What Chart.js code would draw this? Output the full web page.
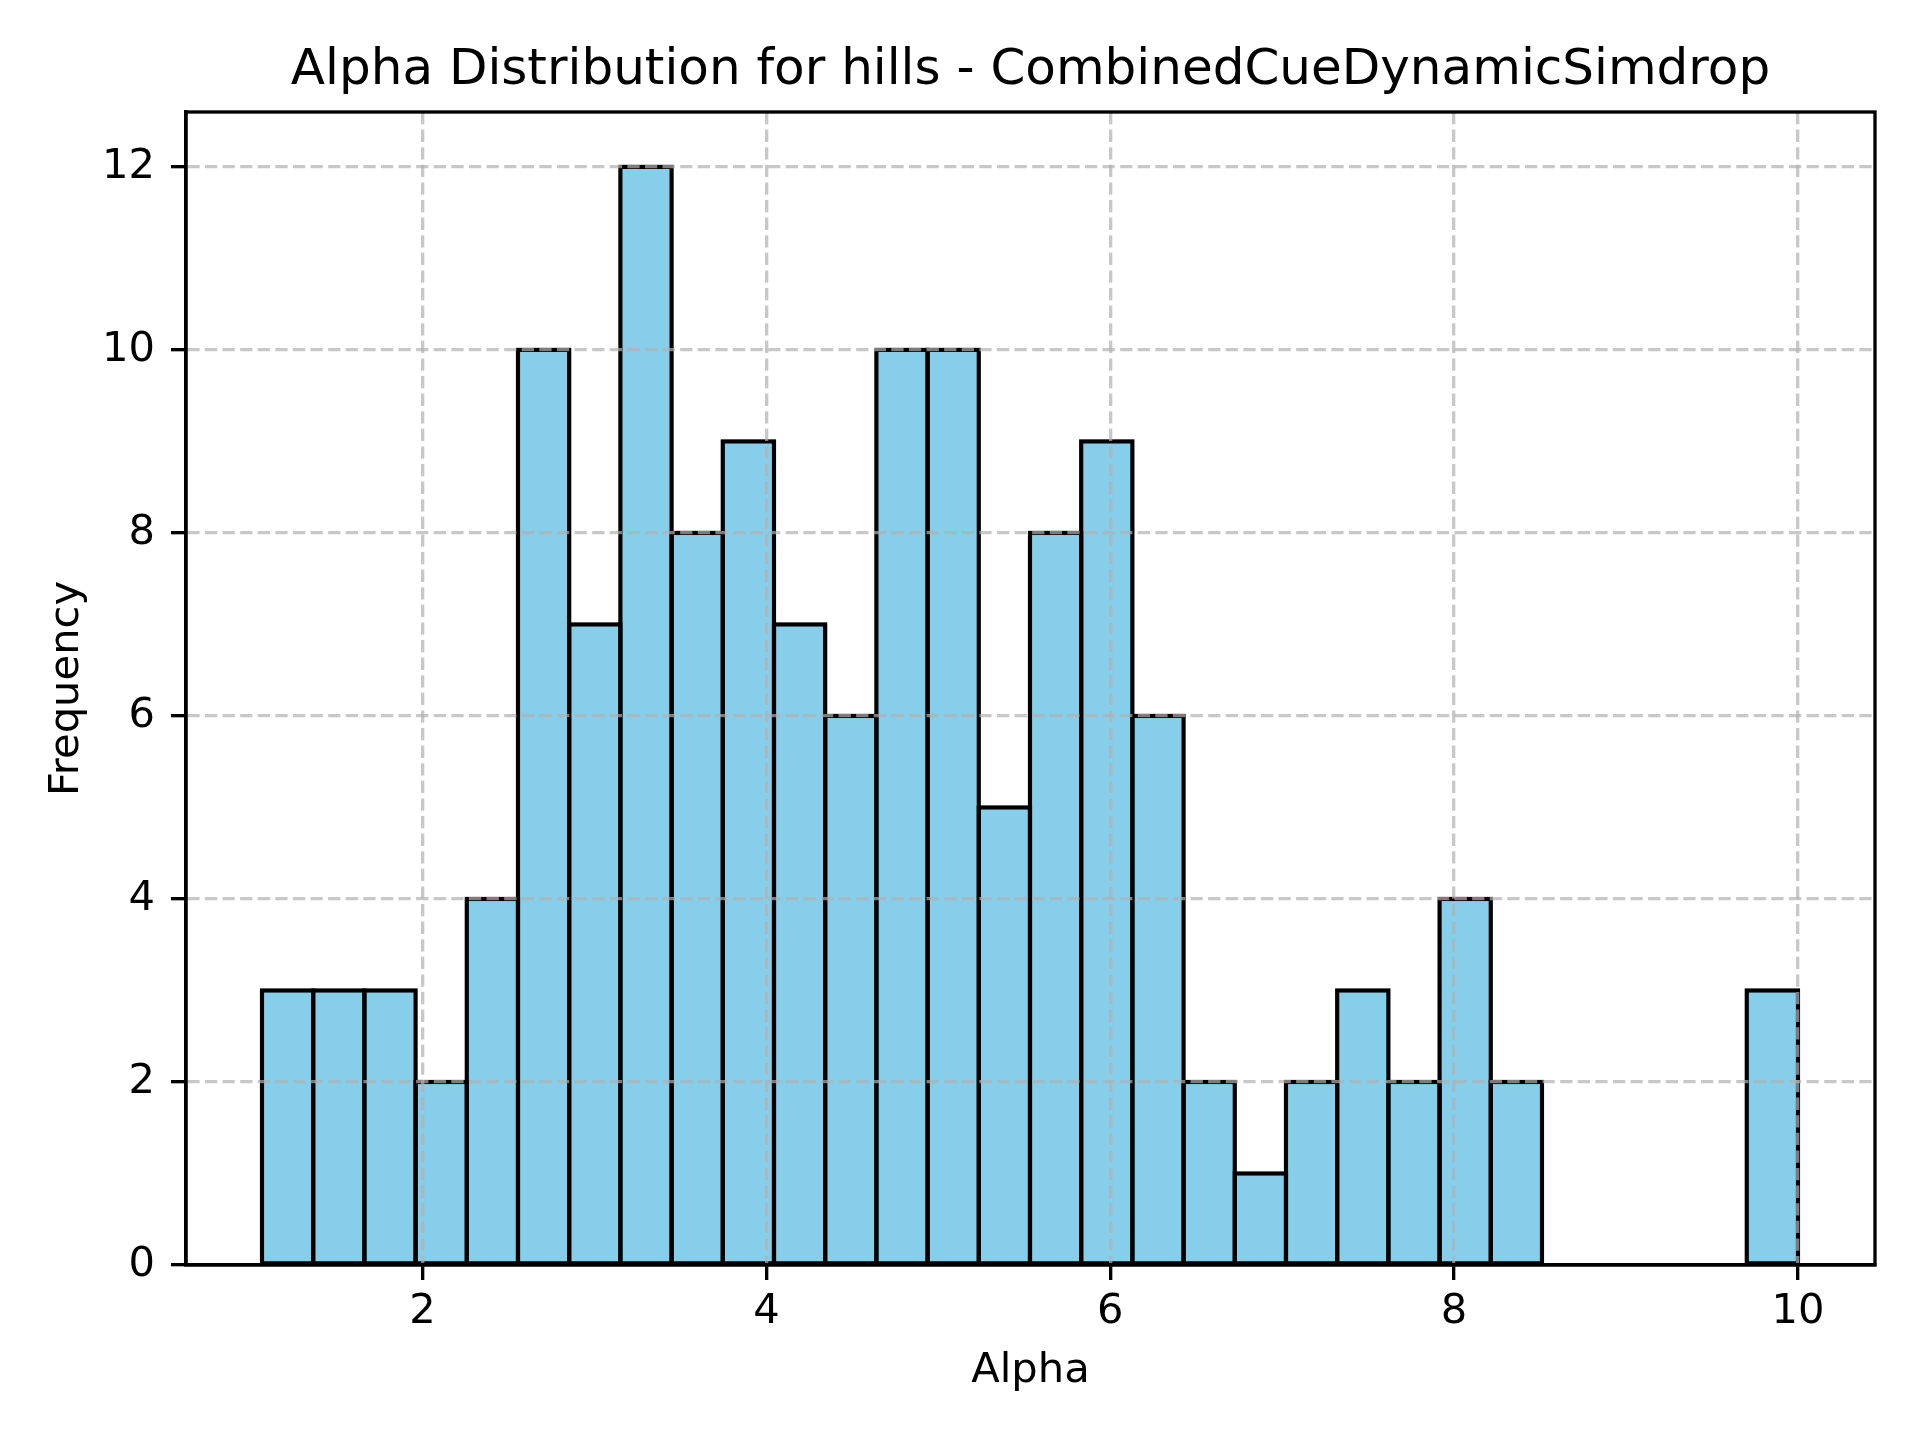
<!DOCTYPE html>
<html>
<head>
<meta charset="utf-8">
<title>Alpha Distribution for hills - CombinedCueDynamicSimdrop</title>
<script src="https://cdn.jsdelivr.net/npm/chart.js@4.4.1/dist/chart.umd.min.js"></script>
<style>
  html, body { margin: 0; padding: 0; background: #fff; }
  #wrap { width: 1920px; height: 1440px; }
</style>
</head>
<body>
<div id="wrap"><canvas id="graficoAlpha" width="1920" height="1440"></canvas></div>
<script>
const binEdges = [
    1.0660, 1.3638, 1.6616, 1.9594, 2.2572, 2.5550, 2.8528, 3.1506, 3.4484, 3.7462,
    4.0440, 4.3418, 4.6396, 4.9374, 5.2352, 5.5330, 5.8308, 6.1286, 6.4264, 6.7242,
    7.0220, 7.3198, 7.6176, 7.9154, 8.2132, 8.5110, 8.8088, 9.1066, 9.4044, 9.7022,
    10.0000
];
const frequencies = [
    3, 3, 3, 2, 4, 10, 7, 12, 8, 9,
    7, 6, 10, 10, 5, 8, 9, 6, 2, 1,
    2, 3, 2, 4, 2, 0, 0, 0, 0, 3
];
const xTicks = [2, 4, 6, 8, 10];
const yTicks = [0, 2, 4, 6, 8, 10, 12];
const xRange = [0.624, 10.448];
const yRange = [0, 12.6];

document.addEventListener("DOMContentLoaded", () => {
    const ctx = document.getElementById("graficoAlpha").getContext("2d");

    Chart.defaults.font.family = "'DejaVu Sans', sans-serif";
    Chart.defaults.color = '#000';

    const corGrade = 'rgba(176, 176, 176, 0.7)';
    const pontos = frequencies.map((f, i) => ({
        x: (binEdges[i] + binEdges[i + 1]) / 2,
        y: f
    }));

    // contorno preto das barras, centrado na borda como no matplotlib
    const bordas = {
        id: 'bordas',
        afterDatasetsDraw(chart) {
            const c = chart.ctx;
            const meta = chart.getDatasetMeta(0);
            c.save();
            c.strokeStyle = '#000';
            c.lineWidth = 4.17;
            meta.data.forEach((bar, i) => {
                if (!frequencies[i]) return;
                const p = bar.getProps(['x', 'y', 'base', 'width'], true);
                c.strokeRect(p.x - p.width / 2, p.y, p.width, p.base - p.y);
            });
            c.restore();
        }
    };

    // moldura completa dos eixos
    const moldura = {
        id: 'moldura',
        afterDraw(chart) {
            const a = chart.chartArea;
            const c = chart.ctx;
            c.save();
            c.strokeStyle = '#000';
            c.lineWidth = 3.33;
            c.strokeRect(a.left, a.top, a.right - a.left, a.bottom - a.top);
            c.restore();
        }
    };

    new Chart(ctx, {
        type: 'bar',
        data: {
            datasets: [{
                label: 'Frequency',
                data: pontos,
                backgroundColor: '#87CEEB',
                borderWidth: 0,
                inflateAmount: 0,
                barPercentage: 1,
                categoryPercentage: 1
            }]
        },
        options: {
            responsive: false,
            devicePixelRatio: 1,
            animation: false,
            layout: { padding: { left: 0, right: 45, top: 0, bottom: 0 } },
            plugins: {
                legend: { display: false },
                tooltip: { enabled: false },
                title: {
                    display: true,
                    text: 'Alpha Distribution for hills - CombinedCueDynamicSimdrop',
                    fullSize: false,
                    color: '#000',
                    font: { size: 50, weight: 'normal' },
                    padding: { top: 41, bottom: 11 }
                }
            },
            scales: {
                x: {
                    type: 'linear',
                    min: xRange[0],
                    max: xRange[1],
                    offset: false,
                    afterFit: s => { s.height = 175; },
                    afterBuildTicks: s => { s.ticks = xTicks.map(v => ({ value: v })); },
                    grid: {
                        z: 1,
                        offset: false,
                        color: corGrade,
                        lineWidth: 3.33,
                        tickLength: 15,
                        tickColor: '#000',
                        tickWidth: 3.33
                    },
                    border: { z: 1, display: true, color: '#000', width: 3.33, dash: [12.3, 5.3] },
                    ticks: { font: { size: 41.67 }, padding: 7, maxRotation: 0 },
                    title: {
                        display: true,
                        text: 'Alpha',
                        font: { size: 41.67 },
                        padding: { top: 0, bottom: 44 }
                    }
                },
                y: {
                    min: yRange[0],
                    max: yRange[1],
                    afterFit: s => { s.width = 186; },
                    afterBuildTicks: s => { s.ticks = yTicks.map(v => ({ value: v })); },
                    grid: {
                        z: 1,
                        color: c => (c.tick && c.tick.value === 0) ? 'rgba(0,0,0,0)' : corGrade,
                        lineWidth: 3.33,
                        tickLength: 15,
                        tickColor: '#000',
                        tickWidth: 3.33
                    },
                    border: { z: 1, display: true, color: '#000', width: 3.33, dash: [12.3, 5.3] },
                    ticks: { font: { size: 41.67 }, padding: 16 },
                    title: {
                        display: true,
                        text: 'Frequency',
                        font: { size: 41.67 },
                        padding: { top: 42, bottom: 0 }
                    }
                }
            }
        },
        plugins: [bordas, moldura]
    });
});
</script>
</body>
</html>
